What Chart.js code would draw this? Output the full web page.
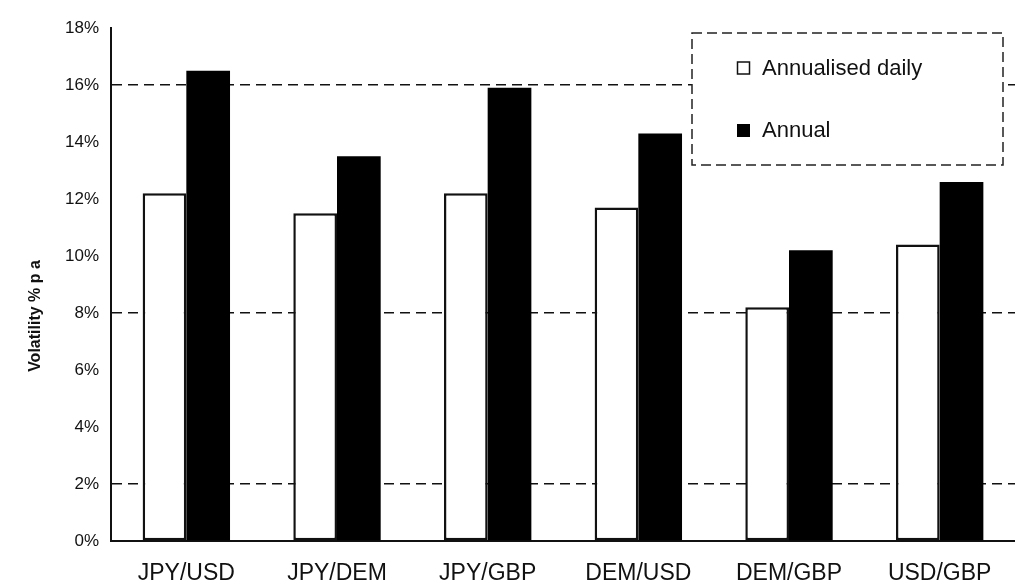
<!DOCTYPE html>
<html>
<head>
<meta charset="utf-8">
<script src="https://cdn.jsdelivr.net/npm/chart.js@4.4.0/dist/chart.umd.min.js"></script>
<style>
  html, body { margin: 0; padding: 0; background: #fff; }
</style>
</head>
<body>
<canvas id="chart" width="1015" height="585"></canvas>
<script>
var categories = ['JPY/USD', 'JPY/DEM', 'JPY/GBP', 'DEM/USD', 'DEM/GBP', 'USD/GBP'];
var annualisedDaily = [12.2, 11.5, 12.2, 11.7, 8.2, 10.4];
var annual = [16.5, 13.5, 15.9, 14.3, 10.2, 12.6];
var seriesNames = ['Annualised daily', 'Annual'];
var gridLevels = [2, 8, 16];
var yTitle = 'Volatility % p a';

var FONT = '"Liberation Sans", Arial, sans-serif';
var INK = '#111';

// y axis title, drawn a bit below the middle like the original
var yTitlePlugin = {
    id: 'yTitle',
    afterDraw: function(chart) {
        var ctx = chart.ctx;
        ctx.save();
        ctx.translate(36, 316);
        ctx.rotate(-Math.PI / 2);
        ctx.font = 'bold 16px ' + FONT;
        ctx.fillStyle = INK;
        ctx.textAlign = 'center';
        ctx.textBaseline = 'middle';
        ctx.fillText(yTitle, 0, 0);
        ctx.restore();
    }
};

// boxed legend in the top right corner of the plot
var legendBoxPlugin = {
    id: 'legendBox',
    afterDraw: function(chart) {
        var ctx = chart.ctx;
        var x = 692, y = 33, w = 311, h = 132;
        ctx.save();
        ctx.fillStyle = '#fff';
        ctx.fillRect(x, y, w, h);
        ctx.setLineDash([10, 5]);
        ctx.lineWidth = 1.5;
        ctx.strokeStyle = '#222';
        ctx.strokeRect(x, y, w, h);
        ctx.setLineDash([]);

        var rows = [68, 130];
        chart.data.datasets.forEach(function(ds, i) {
            var cy = rows[i];
            if (ds.backgroundColor === '#000') {
                ctx.fillStyle = '#000';
                ctx.fillRect(737, cy - 6, 13, 13);
            } else {
                ctx.lineWidth = 1.5;
                ctx.strokeStyle = INK;
                ctx.strokeRect(737.5, cy - 6, 12, 12);
            }
            ctx.fillStyle = INK;
            ctx.font = '22px ' + FONT;
            ctx.textAlign = 'left';
            ctx.textBaseline = 'middle';
            ctx.fillText(ds.label, 762, cy + 1);
        });
        ctx.restore();
    }
};

var ctx = document.getElementById('chart').getContext('2d');
var chart = new Chart(ctx, {
    type: 'bar',
    data: {
        labels: categories,
        datasets: [{
            label: seriesNames[0],
            data: annualisedDaily,
            backgroundColor: '#fff',
            borderColor: INK,
            borderWidth: 2.5,
            borderSkipped: false
        }, {
            label: seriesNames[1],
            data: annual,
            backgroundColor: '#000',
            borderWidth: 0
        }]
    },
    options: {
        responsive: false,
        animation: false,
        devicePixelRatio: 1,
        layout: { padding: { top: 28, right: 0, bottom: 0, left: 0 } },
        datasets: {
            bar: { categoryPercentage: 0.58, barPercentage: 1.0 }
        },
        plugins: {
            legend: { display: false },
            tooltip: { enabled: false }
        },
        scales: {
            x: {
                grid: { display: false },
                border: { display: true, color: '#111', width: 2 },
                ticks: {
                    font: { family: FONT, size: 23 },
                    color: INK,
                    padding: 11,
                    maxRotation: 0
                },
                afterFit: function(scale) { scale.height = 44; }
            },
            y: {
                min: 0,
                max: 18,
                ticks: {
                    stepSize: 2,
                    font: { family: FONT, size: 17 },
                    color: INK,
                    padding: 12,
                    callback: function(v) { return v + '%'; }
                },
                grid: {
                    drawTicks: false,
                    lineWidth: 1.5,
                    color: function(c) {
                        return gridLevels.indexOf(c.tick && c.tick.value) >= 0 ? '#111' : 'rgba(0,0,0,0)';
                    }
                },
                border: { display: true, color: '#111', width: 2, dash: [10, 6] },
                afterFit: function(scale) { scale.width = 111; }
            }
        }
    },
    plugins: [yTitlePlugin, legendBoxPlugin]
});
</script>
</body>
</html>
